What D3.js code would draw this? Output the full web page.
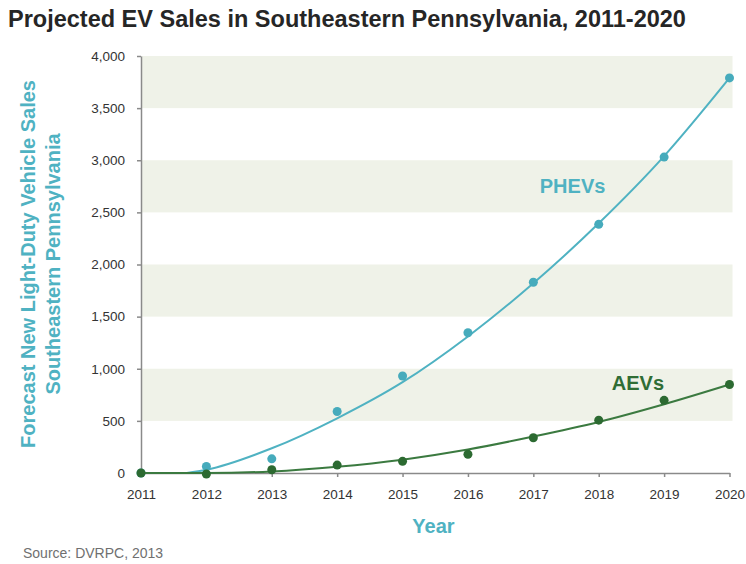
<!DOCTYPE html>
<html>
<head>
<meta charset="utf-8">
<script src="https://cdn.jsdelivr.net/npm/d3@7"></script>
<style>
	body { margin: 0; background: #fff; }
	svg { display: block; font-family: "Liberation Sans", Arial, sans-serif; }
	.axis path, .axis line { stroke: #8a8a8a; stroke-width: 1.5; }
	.axis text { fill: #333; font-size: 13.5px; }
</style>
</head>
<body>
<svg class="chart" width="746" height="564"></svg>
<script>
// data
var years = [2011, 2012, 2013, 2014, 2015, 2016, 2017, 2018, 2019, 2020]
var phevSales = [0, 63, 136, 590, 930, 1345, 1830, 2385, 3030, 3790]
var aevSales = [0, -10, 31, 76, 112, 180, 338, 507, 697, 849]

// trend lines at each year
var phevTrendYears = [2011.7, 2012, 2013, 2014, 2015, 2016, 2017, 2018, 2019, 2020]
var phevTrend = [0, 31, 237, 525, 871, 1310, 1820, 2395, 3040, 3790]
var aevTrendYears = [2011, 2012, 2013, 2014, 2015, 2016, 2017, 2018, 2019, 2020]
var aevTrend = [0, 0, 15, 60, 128, 225, 350, 490, 660, 849]

var yTicks = [0, 500, 1000, 1500, 2000, 2500, 3000, 3500, 4000]
var bandStarts = [500, 1500, 2500, 3500]

var teal = '#4fb2c2'
var tealDot = '#46abbc'
var green = '#3b7a40'
var greenDot = '#2c6a31'

;(function() {
	var svg = d3.select('.chart')
	var margin = { top: 56, left: 141, right: 16, bottom: 91 }
	var height = 564 - margin.top - margin.bottom

	var x = d3.scaleLinear().domain([2011, 2020]).range([0, 588.5])
	var y = d3.scaleLinear().domain([0, 4000]).range([height, 0])

	svg.append('text')
		.attr('x', 8).attr('y', 27)
		.attr('font-size', 23.5).attr('font-weight', 'bold')
		.attr('fill', '#262626')
		.text('Projected EV Sales in Southeastern Pennsylvania, 2011-2020')

	var g = svg.append('g').attr('transform', 'translate(' + margin.left + ',' + margin.top + ')')

	// shaded bands
	g.selectAll('.band')
		.data(bandStarts)
		.enter()
		.append('rect')
		.attr('class', 'band')
		.attr('x', 0)
		.attr('y', function(d) { return y(d + 500) })
		.attr('width', x(2020) + 3)
		.attr('height', function(d) { return y(d) - y(d + 500) })
		.attr('fill', '#eff2e8')

	var axisX = d3.axisBottom(x)
		.tickValues(years)
		.tickFormat(d3.format('d'))
		.tickSizeInner(4).tickSizeOuter(0).tickPadding(12)
	g.append('g').attr('class', 'axis axis--x')
		.attr('transform', 'translate(0,' + height + ')')
		.call(axisX)

	var axisY = d3.axisLeft(y)
		.tickValues(yTicks)
		.tickFormat(d3.format(','))
		.tickSizeInner(4).tickSizeOuter(0).tickPadding(12)
	g.append('g').attr('class', 'axis axis--y')
		.call(axisY)

	var line = d3.line()
		.x(function(d) { return x(d[0]) })
		.y(function(d) { return y(d[1]) })
		.curve(d3.curveMonotoneX)

	g.append('path')
		.datum(d3.zip(phevTrendYears, phevTrend))
		.attr('d', line)
		.attr('fill', 'none')
		.attr('stroke', teal)
		.attr('stroke-width', 2)

	g.selectAll('.dot--phev')
		.data(d3.zip(years, phevSales))
		.enter()
		.append('circle')
		.attr('class', 'dot--phev')
		.attr('cx', function(d) { return x(d[0]) })
		.attr('cy', function(d) { return y(d[1]) })
		.attr('r', 4.5)
		.attr('fill', tealDot)

	g.append('path')
		.datum(d3.zip(aevTrendYears, aevTrend))
		.attr('d', line)
		.attr('fill', 'none')
		.attr('stroke', green)
		.attr('stroke-width', 2)

	g.selectAll('.dot--aev')
		.data(d3.zip(years, aevSales))
		.enter()
		.append('circle')
		.attr('class', 'dot--aev')
		.attr('cx', function(d) { return x(d[0]) })
		.attr('cy', function(d) { return y(d[1]) })
		.attr('r', 4.5)
		.attr('fill', greenDot)

	// series labels
	g.append('text')
		.attr('x', x(2017.6)).attr('y', y(2685))
		.attr('text-anchor', 'middle')
		.attr('font-size', 20).attr('font-weight', 'bold')
		.attr('fill', teal)
		.text('PHEVs')

	g.append('text')
		.attr('x', x(2018.6)).attr('y', y(798))
		.attr('text-anchor', 'middle')
		.attr('font-size', 20).attr('font-weight', 'bold')
		.attr('fill', '#2f6d35')
		.text('AEVs')

	// axis titles
	svg.append('text')
		.attr('x', 433.5).attr('y', 533)
		.attr('text-anchor', 'middle')
		.attr('font-size', 20).attr('font-weight', 'bold')
		.attr('fill', teal)
		.text('Year')

	var yTitle = svg.append('text')
		.attr('transform', 'translate(0,264)rotate(-90)')
		.attr('text-anchor', 'middle')
		.attr('font-size', 20).attr('font-weight', 'bold')
		.attr('fill', teal)
	yTitle.append('tspan').attr('x', 0).attr('y', 35).text('Forecast New Light-Duty Vehicle Sales')
	yTitle.append('tspan').attr('x', 0).attr('y', 60).text('Southeastern Pennsylvania')

	svg.append('text')
		.attr('x', 23).attr('y', 558)
		.attr('font-size', 14)
		.attr('fill', '#707070')
		.text('Source: DVRPC, 2013')
})()
</script>
</body>
</html>
